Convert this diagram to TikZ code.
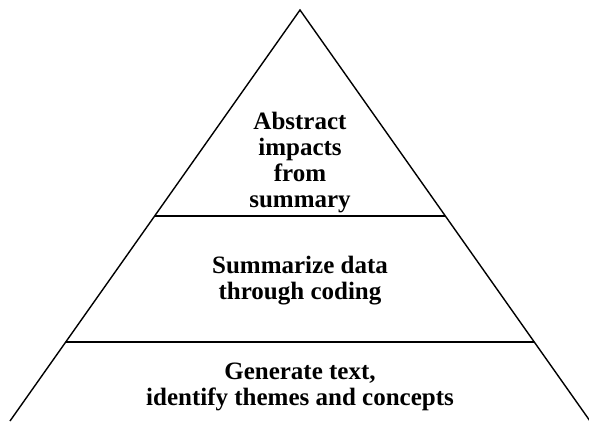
\documentclass[tikz,border=0pt]{standalone}
\usepackage{fontspec}
\setmainfont{Liberation Serif}
\usetikzlibrary{calc}

\tikzset{
  edge/.style={line width=1.4pt, black},
  tier/.style={align=center, font=\bfseries\fontsize{25}{26}\selectfont, inner sep=0pt}
}

\begin{document}
\begin{tikzpicture}[x=1pt, y=1pt]
    \useasboundingbox (0,0) rectangle (589,421);
    % Draw the sides of the pyramid
    \coordinate (apex) at (300,411);
    \coordinate (leftfoot) at (10,0);
    \coordinate (rightfoot) at (590,0);
    \draw [edge] (leftfoot) -- (apex) -- (rightfoot);
    % Draw the two dividing lines
    \draw [edge] ($(apex)!0.5012!(leftfoot)$) coordinate (upl)
      -- ($(apex)!0.5012!(rightfoot)$) coordinate (upr);
    \draw [edge] ($(apex)!0.8078!(leftfoot)$) coordinate (lowl)
      -- ($(apex)!0.8078!(rightfoot)$) coordinate (lowr);

    \node [tier] (top) at (300,258) {Abstract\\impacts\\from\\summary};
    \node [tier] (middle) at (300,140) {Summarize data\\through coding};
    \node [tier] (bottom) at (300,34.5) {Generate text,\\identify themes and concepts};
  \end{tikzpicture}
\end{document}
